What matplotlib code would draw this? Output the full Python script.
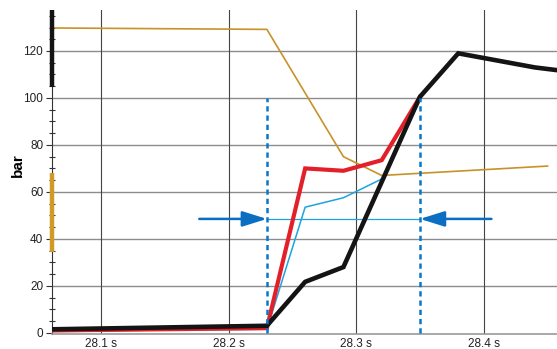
import matplotlib
matplotlib.use("Agg")
import matplotlib.pyplot as plt
from matplotlib.patches import FancyArrowPatch
from matplotlib.ticker import MultipleLocator

plt.rcParams['font.family'] = ['Liberation Sans', 'DejaVu Sans']

# pressure traces (time in s, pressure in bar)
t_gold = [28.061, 28.23, 28.29, 28.32, 28.45]
p_gold = [129.8, 129.2, 75.0, 67.0, 71.0]

t_cyan = [28.061, 28.23, 28.26, 28.29, 28.32]
p_cyan = [0.8, 1.5, 53.5, 57.5, 65.5]

t_red = [28.061, 28.23, 28.26, 28.29, 28.32, 28.35]
p_red = [1.0, 2.0, 70.0, 69.0, 73.5, 100.5]

t_black = [28.061, 28.23, 28.26, 28.29, 28.35, 28.38, 28.41, 28.44, 28.47]
p_black = [1.5, 3.0, 21.7, 28.0, 100.5, 119.0, 116.0, 113.0, 111.0]

# switching window and threshold
t_start = 28.23
t_end = 28.35
p_window_top = 100.0
p_threshold = 48.5
t_arrow_left = 28.177
t_arrow_right = 28.406

# scale range markers on the y axis
black_range = (104.5, 137.4)
gold_range = (34.3, 68.0)

x_ticks = [28.1, 28.2, 28.3, 28.4]
x_labels = ['28.1 s', '28.2 s', '28.3 s', '28.4 s']
y_ticks = [0, 20, 40, 60, 80, 100, 120]

fig = plt.figure(figsize=(5.57, 3.49), dpi=100)
ax = fig.add_axes([0.0925, 0.043, 0.9075, 0.928])

ax.set_xlim(28.0612, 28.4574)
ax.set_ylim(-0.5, 137.4)

# grid
for yv in y_ticks[1:]:
    ax.axhline(yv, color='#8c8c8c', lw=1.0, zorder=1)
for xv in x_ticks:
    ax.axvline(xv, color='#444444', lw=0.8, zorder=1)

ax.plot(t_gold, p_gold, color='#c8922a', lw=1.2, zorder=3)
ax.plot(t_cyan, p_cyan, color='#1ea3dc', lw=1.1, zorder=3)
ax.plot(t_red, p_red, color='#e3202a', lw=3.0, zorder=4, solid_joinstyle='miter')
ax.plot(t_black, p_black, color='#141414', lw=3.3, zorder=5, solid_joinstyle='miter')

# window markers
ax.plot([t_start, t_start], [0, p_window_top], color='#0a78c8', lw=1.8,
        linestyle=(0, (2.1, 1.6)), zorder=6)
ax.plot([t_end, t_end], [0, p_window_top], color='#0a78c8', lw=1.8,
        linestyle=(0, (2.1, 1.6)), zorder=6)
ax.plot([t_start, t_end], [p_threshold, p_threshold], color='#1ea3dc', lw=0.9, zorder=3)

for x0, x1 in [(t_arrow_left, t_start), (t_arrow_right, t_end)]:
    arr = FancyArrowPatch((x0, p_threshold), (x1, p_threshold),
                          arrowstyle='-|>,head_length=15,head_width=4.7',
                          mutation_scale=1, color='#0a6fc2', lw=1.8,
                          shrinkA=0, shrinkB=0, zorder=7)
    ax.add_patch(arr)

# axis range bars on the left spine
ax.plot([0, 0], black_range, transform=ax.get_yaxis_transform(),
        color='#141414', lw=3.2, clip_on=False, zorder=8, solid_capstyle='butt')
ax.plot([0, 0], gold_range, transform=ax.get_yaxis_transform(),
        color='#d09a28', lw=3.2, clip_on=False, zorder=8, solid_capstyle='butt')

ax.set_xticks(x_ticks)
ax.set_xticklabels(x_labels)
ax.set_yticks(y_ticks)
ax.yaxis.set_minor_locator(MultipleLocator(5))
ax.tick_params(axis='x', length=0, pad=3, labelsize=8.5, labelcolor='#222222')
ax.tick_params(axis='y', which='major', direction='out', length=4, width=0.8,
               color='#333333', labelsize=8.5, labelcolor='#222222', pad=2)
ax.tick_params(axis='y', which='minor', direction='inout', length=5, width=0.8,
               color='#333333')

ax.set_ylabel('bar', fontsize=11, fontweight='bold')
ax.yaxis.set_label_coords(-0.052, 0.52)

for side in ['top', 'right']:
    ax.spines[side].set_visible(False)
ax.spines['left'].set_color('#333333')
ax.spines['left'].set_linewidth(0.8)
ax.spines['bottom'].set_color('#9a9a9a')
ax.spines['bottom'].set_linewidth(1.2)

fig.savefig('out.png', dpi=100)
